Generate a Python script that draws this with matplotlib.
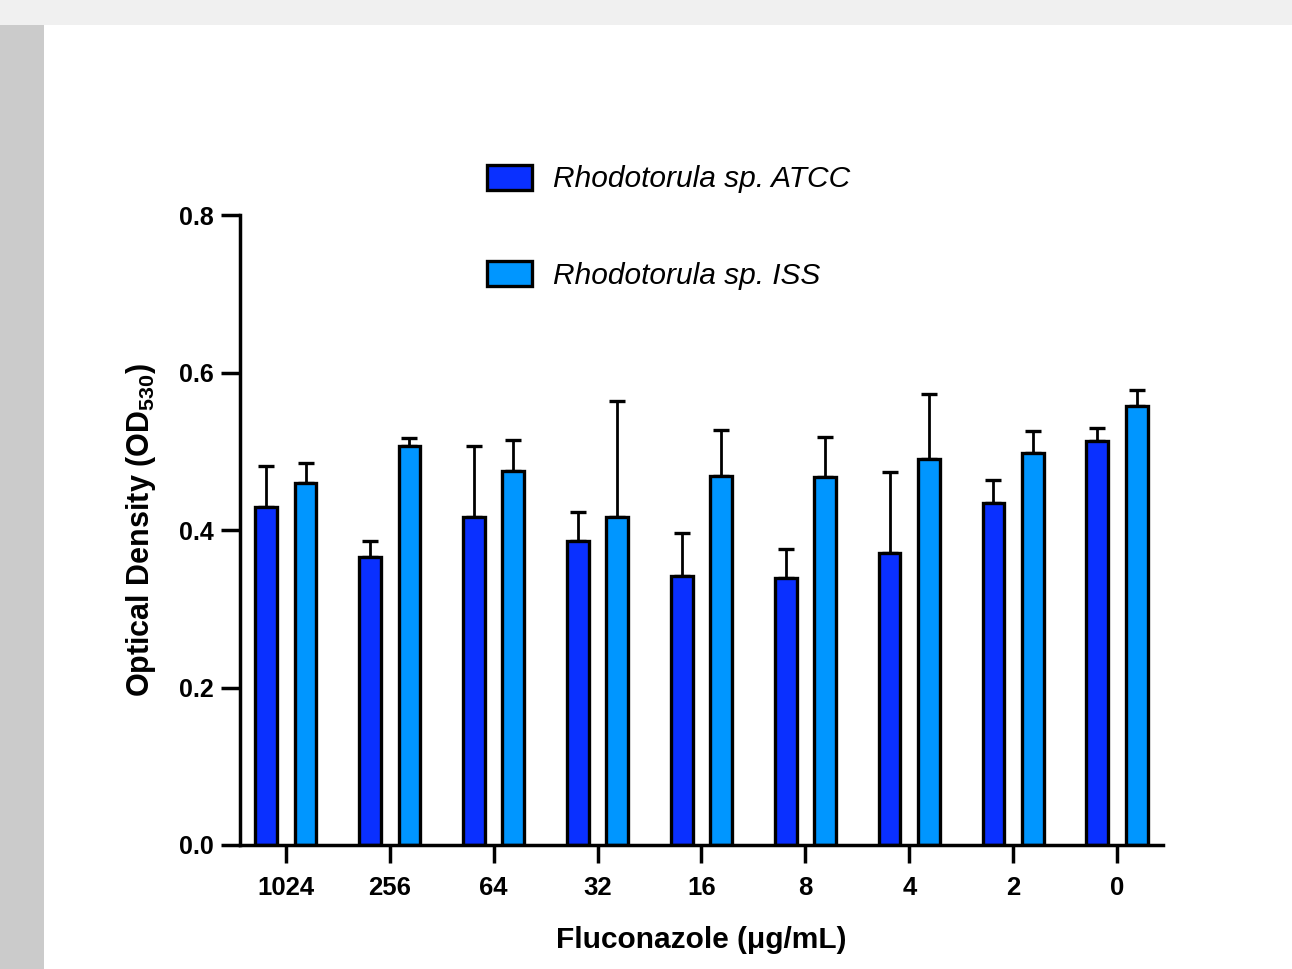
import matplotlib
matplotlib.use("Agg")
import matplotlib.pyplot as plt
import numpy as np
from matplotlib.patches import Rectangle

concentrations = ["1024", "256", "64", "32", "16", "8", "4", "2", "0"]
atcc_mean = [0.429, 0.366, 0.417, 0.386, 0.342, 0.339, 0.371, 0.434, 0.513]
atcc_err = [0.052, 0.020, 0.090, 0.037, 0.054, 0.037, 0.103, 0.029, 0.017]
iss_mean = [0.460, 0.507, 0.475, 0.417, 0.469, 0.467, 0.490, 0.498, 0.557]
iss_err = [0.025, 0.010, 0.039, 0.147, 0.058, 0.051, 0.083, 0.028, 0.021]
series_labels = ["Rhodotorula sp. ATCC", "Rhodotorula sp. ISS"]

plt.rcParams["font.family"] = ["Liberation Sans", "DejaVu Sans"]
plt.rcParams["mathtext.fontset"] = "custom"
plt.rcParams["mathtext.rm"] = "Liberation Sans:bold"
plt.rcParams["mathtext.it"] = "Liberation Sans:bold"
plt.rcParams["mathtext.bf"] = "Liberation Sans:bold"

fig = plt.figure(figsize=(12.92, 9.69), dpi=100, facecolor="white")
# screenshot frame: light top strip, grey left strip
fig.patches.append(Rectangle((0, 0.974), 1, 0.026, transform=fig.transFigure,
                             facecolor="#f0f0f0", edgecolor="none", zorder=0))
fig.patches.append(Rectangle((0, 0), 0.034, 0.974, transform=fig.transFigure,
                             facecolor="#cbcbcb", edgecolor="none", zorder=0))

ax = fig.add_axes([0.1858, 0.128, 0.7142, 0.650])

x = np.arange(len(concentrations))
width = 0.21
offset = 0.19
lw = 2.4
ax.bar(x - offset, atcc_mean, width, color="#0a30ff", edgecolor="black",
       linewidth=lw, label=series_labels[0], zorder=3)
ax.bar(x + offset, iss_mean, width, color="#0096ff", edgecolor="black",
       linewidth=lw, label=series_labels[1], zorder=3)
ax.errorbar(x - offset, atcc_mean, yerr=[np.zeros(len(x)), atcc_err], fmt="none",
            ecolor="black", elinewidth=2.0, capsize=5.5, capthick=2.4, zorder=2)
ax.errorbar(x + offset, iss_mean, yerr=[np.zeros(len(x)), iss_err], fmt="none",
            ecolor="black", elinewidth=2.0, capsize=5.5, capthick=2.4, zorder=2)

ax.set_xlim(-0.44, 8.44)
ax.set_ylim(0, 0.8)
ax.set_yticks([0.0, 0.2, 0.4, 0.6, 0.8])
ax.set_yticklabels(["0.0", "0.2", "0.4", "0.6", "0.8"], fontweight="bold", fontsize=18)
ax.set_xticks(x)
ax.set_xticklabels(concentrations, fontweight="bold", fontsize=18.5)
ax.tick_params(axis="y", length=14, width=2.5, pad=5)
ax.tick_params(axis="x", length=13, width=2.5, pad=9)
for side in ["top", "right"]:
    ax.spines[side].set_visible(False)
for side in ["left", "bottom"]:
    ax.spines[side].set_linewidth(2.5)
ax.spines["bottom"].set_zorder(4)

ax.set_xlabel("Fluconazole (μg/mL)", fontweight="bold", fontsize=21.5, labelpad=19)
ax.set_ylabel("Optical Density (OD$_{530}$)", fontweight="bold", fontsize=22, labelpad=15)

leg = ax.legend(loc="upper left", bbox_to_anchor=(0.377, 0.830), bbox_transform=fig.transFigure,
                frameon=False, borderpad=0, borderaxespad=0, handlelength=1.5,
                handleheight=0.9, handletextpad=0.7, labelspacing=2.27,
                prop={"style": "italic", "size": 21.5})

fig.savefig("out.png", dpi=100, facecolor="white")
